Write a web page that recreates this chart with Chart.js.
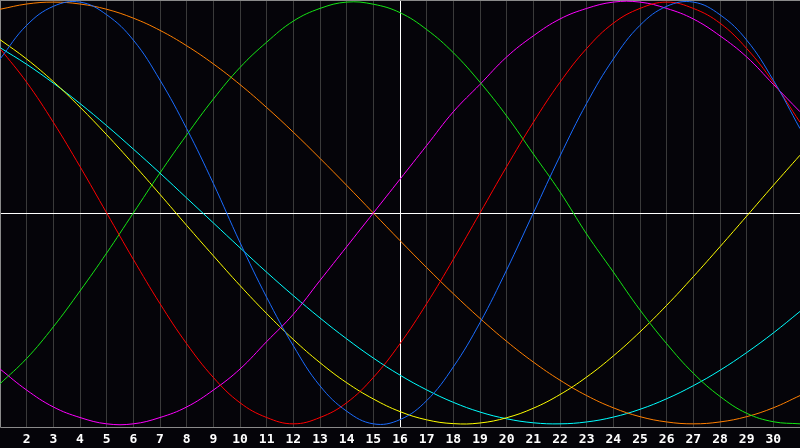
<!DOCTYPE html>
<html>
<head>
<meta charset="utf-8">
<style>
  html, body { margin: 0; padding: 0; background: #050409; }
  #wrap { width: 800px; height: 448px; }
  canvas { display: block; }
</style>
<script src="https://cdn.jsdelivr.net/npm/chart.js@4"></script>
</head>
<body>
<div id="wrap"><canvas id="c" width="800" height="448"></canvas></div>
<script>
const days = ['1','2','3','4','5','6','7','8','9','10','11','12','13','14','15','16','17','18','19','20','21','22','23','24','25','26','27','28','29','30','31'];
const today = '16';

const physical = [0.73,0.89,0.98,1.00,0.94,0.82,0.63,0.40,0.14,-0.14,-0.40,-0.63,-0.82,-0.94,-1.00,-0.98,-0.89,-0.73,-0.52,-0.27,0.00,0.27,0.52,0.73,0.89,0.98,1.00,0.94,0.82,0.63,0.40];
const emotional = [0.78,0.62,0.43,0.22,0.00,-0.22,-0.43,-0.62,-0.78,-0.90,-0.97,-1.00,-0.97,-0.90,-0.78,-0.62,-0.43,-0.22,0.00,0.22,0.43,0.62,0.78,0.90,0.97,1.00,0.97,0.90,0.78,0.62,0.43];
const intellectual = [-0.81,-0.69,-0.54,-0.37,-0.19,0.00,0.19,0.37,0.54,0.69,0.81,0.91,0.97,1.00,0.99,0.95,0.87,0.76,0.62,0.46,0.28,0.10,-0.10,-0.28,-0.46,-0.62,-0.76,-0.87,-0.95,-0.99,-1.00];
const intuitive = [-0.74,-0.84,-0.92,-0.97,-1.00,-1.00,-0.97,-0.92,-0.84,-0.74,-0.61,-0.48,-0.32,-0.16,0.00,0.16,0.32,0.48,0.61,0.74,0.84,0.92,0.97,1.00,1.00,0.97,0.92,0.84,0.74,0.61,0.48];
const aesthetic = [0.822,0.730,0.623,0.502,0.371,0.232,0.088,-0.059,-0.203,-0.344,-0.477,-0.600,-0.710,-0.805,-0.882,-0.942,-0.981,-0.999,-0.996,-0.971,-0.926,-0.861,-0.778,-0.678,-0.564,-0.438,-0.302,-0.160,-0.015,0.131,0.274];
const awareness = [0.966,0.991,1.000,0.991,0.966,0.924,0.866,0.793,0.707,0.609,0.500,0.383,0.259,0.131,0.000,-0.131,-0.259,-0.383,-0.500,-0.609,-0.707,-0.793,-0.866,-0.924,-0.966,-0.991,-1.000,-0.991,-0.966,-0.924,-0.866];
const spiritual = [0.784,0.705,0.616,0.519,0.414,0.303,0.189,0.071,-0.047,-0.165,-0.281,-0.392,-0.498,-0.597,-0.688,-0.769,-0.839,-0.898,-0.944,-0.976,-0.995,-1.000,-0.991,-0.968,-0.931,-0.881,-0.819,-0.746,-0.662,-0.569,-0.467];

const seriesNames = ['Physical','Emotional','Intellectual','Intuitive','Aesthetic','Awareness','Spiritual'];
const seriesData = [physical, emotional, intellectual, intuitive, aesthetic, awareness, spiritual];
const seriesColors = ['#1a6cff','#ff0000','#14e614','#ff00ff','#ffff00','#ff7f00','#00ffff'];

const frame = {
  id: 'frame',
  beforeDraw(chart) {
    const ctx = chart.ctx;
    ctx.save();
    ctx.fillStyle = '#050409';
    ctx.fillRect(0, 0, chart.width, chart.height);
    ctx.restore();
  },
  beforeDatasetsDraw(chart) {
    const ctx = chart.ctx, a = chart.chartArea;
    const y0 = Math.round(chart.scales.y.getPixelForValue(0)) + 0.5;
    ctx.save();
    ctx.strokeStyle = '#ffffff';
    ctx.lineWidth = 1;
    ctx.beginPath();
    ctx.moveTo(a.left, y0);
    ctx.lineTo(a.right, y0);
    ctx.stroke();
    ctx.strokeStyle = '#8a8a8a';
    ctx.beginPath();
    ctx.moveTo(a.left + 0.5, a.top);
    ctx.lineTo(a.left + 0.5, Math.round(a.bottom) + 0.5);
    ctx.lineTo(a.right, Math.round(a.bottom) + 0.5);
    ctx.moveTo(a.left, a.top + 0.5);
    ctx.lineTo(a.right, a.top + 0.5);
    ctx.stroke();
    ctx.restore();
  }
};

new Chart(document.getElementById('c'), {
  type: 'line',
  data: {
    labels: days,
    datasets: seriesNames.map((n, i) => ({
      label: n,
      data: seriesData[i],
      borderColor: seriesColors[i],
      borderWidth: 1,
      pointRadius: 0,
      pointHoverRadius: 0,
      pointHitRadius: 0,
      fill: false,
      tension: 0.4
    }))
  },
  options: {
    responsive: false,
    devicePixelRatio: 1,
    animation: false,
    layout: { autoPadding: false, padding: 0 },
    plugins: { legend: { display: false }, tooltip: { enabled: false } },
    scales: {
      x: {
        type: 'category',
        offset: false,
        border: { display: false },
        grid: {
          drawTicks: false,
          lineWidth: 1,
          color: (c) => (days[c.index] === today ? '#ffffff' : '#3a3a3a')
        },
        ticks: {
          autoSkip: false,
          maxRotation: 0,
          padding: 5,
          color: '#ffffff',
          font: { family: '"DejaVu Sans Mono", monospace', size: 13, weight: 'bold', lineHeight: 1.2 },
          callback: function(v, i) { return (i === 0 || i === days.length - 1) ? '' : days[i]; }
        },
        afterFit(scale) {
          scale.height = 21;
          scale.paddingLeft = 0;
          scale.paddingRight = 0;
        }
      },
      y: {
        display: false,
        min: -1.015,
        max: 1.01
      }
    }
  },
  plugins: [frame]
});
</script>
</body>
</html>
